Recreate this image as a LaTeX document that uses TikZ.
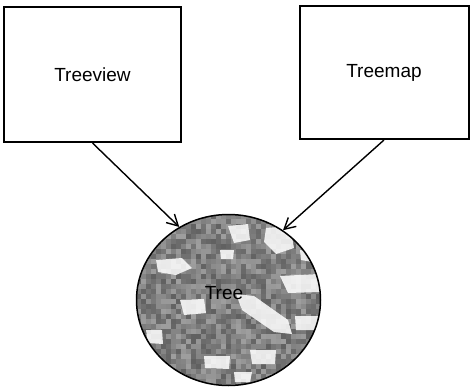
\documentclass[tikz,border=0pt]{standalone}
\usepackage{fontspec}
\setmainfont{Liberation Sans}
\usetikzlibrary{arrows.meta,shapes.geometric}
\begin{document}
\begin{tikzpicture}[x=1pt,y=-1pt,
  viewbox/.style={draw=black,line width=2pt,fill=white,rectangle,inner sep=0pt,
    font=\fontsize{19}{22}\selectfont},
  label/.style={font=\fontsize{19}{22}\selectfont},
  link/.style={line width=1.4pt,-{Straight Barb[length=11pt,width=12pt,line width=1.4pt]}},
  speck/.style={fill=white,draw=none,opacity=0.85}]
\useasboundingbox (0,0) rectangle (471,388);
% views
\node[viewbox,minimum width=177pt,minimum height=135pt] (tv) at (92.5,74.5) {Treeview};
\node[viewbox,minimum width=169pt,minimum height=133pt] (tm) at (384,72.5) {Treemap};
% mottled texture of the tree disc
\begin{scope}
  \clip (228.5,300) ellipse (92 and 85.5);
  \pgfmathsetseed{11}
  \foreach \cx in {136,141,...,322}{
    \foreach \cy in {214,219,...,388}{
      \pgfmathtruncatemacro\shade{random(38,62)}
      \fill[black!\shade!white] (\cx,\cy) rectangle ++(5.3,5.3);
    }
  }
  \fill[speck] (228,226) -- (248,224) -- (250,240) -- (234,243) -- cycle;
  \fill[speck] (266,228) -- (290,226) -- (294,248) -- (276,254) -- (264,242) -- cycle;
  \fill[speck] (156,260) -- (182,258) -- (192,268) -- (176,275) -- (158,272) -- cycle;
  \fill[speck] (280,276) -- (318,274) -- (320,292) -- (288,293) -- cycle;
  \fill[speck] (180,300) -- (204,299) -- (206,313) -- (184,315) -- cycle;
  \fill[speck] (236,294) -- (254,296) -- (288,320) -- (292,334) -- (274,332) -- (242,310) -- cycle;
  \fill[speck] (146,330) -- (162,330) -- (163,344) -- (148,343) -- cycle;
  \fill[speck] (250,350) -- (276,350) -- (275,364) -- (252,364) -- cycle;
  \fill[speck] (204,356) -- (230,356) -- (229,369) -- (205,368) -- cycle;
  \fill[speck] (295,316) -- (320,316) -- (319,330) -- (296,330) -- cycle;
  \fill[speck] (220,250) -- (234,250) -- (233,259) -- (221,259) -- cycle;
  \fill[speck] (234,372) -- (252,372) -- (250,382) -- (235,382) -- cycle;
  \fill[speck] (300,250) -- (314,252) -- (312,262) -- (301,260) -- cycle;
\end{scope}
\node[draw=black,line width=1.5pt,ellipse,minimum width=184pt,minimum height=171pt,inner sep=0pt] (tree) at (228.5,300) {};
\node[label] (tt) at (224,293) {Tree};
% connectors
\draw[link] (tv.south) -- (tree.124);
\draw[link] (tm.south) -- (tree.52);
\end{tikzpicture}
\end{document}
